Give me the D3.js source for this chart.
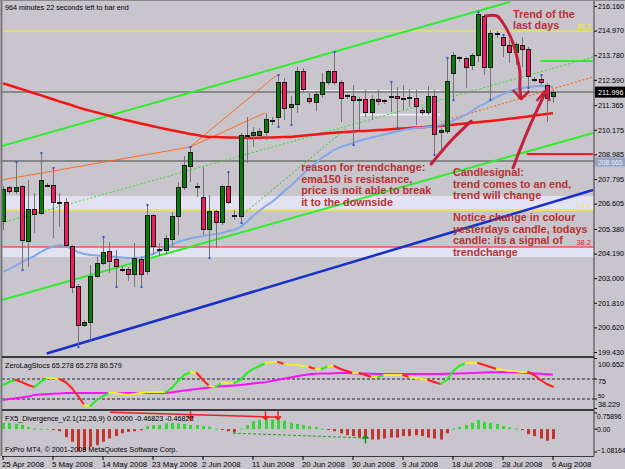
<!DOCTYPE html>
<html>
<head>
<meta charset="utf-8">
<script src="https://cdnjs.cloudflare.com/ajax/libs/d3/7.8.5/d3.min.js"></script>
<style>
  body { margin: 0; background: #c9c5cc; }
  svg { display: block; }
  text { font-family: "Liberation Sans", Arial, sans-serif; }
</style>
</head>
<body>
<div id="chart"></div>
<script>
// ---- chart values ----
var priceTicks = [216.160, 214.970, 213.780, 212.590, 211.365, 210.175, 208.985, 207.795,
                  206.605, 205.380, 204.190, 203.000, 201.810, 200.620, 199.430];
var dateLabels = ["25 Apr 2008", "5 May 2008", "14 May 2008", "23 May 2008", "2 Jun 2008", "11 Jun 2008",
                  "20 Jun 2008", "30 Jun 2008", "9 Jul 2008", "18 Jul 2008", "28 Jul 2008", "6 Aug 2008"];
var dateBars = [0, 8, 16, 24, 32, 40, 48, 56, 64, 72, 80, 88];

var opens = [205.72, 207.36, 207.17, 207.41, 204.75, 206.34, 206.15, 207.50, 207.50, 206.68,
  206.68, 204.51, 202.62, 200.73, 200.88, 203.06, 203.73, 204.31, 203.88, 203.44,
  203.44, 203.20, 203.88, 203.30, 206.01, 204.41, 204.36, 204.85, 205.96, 207.36,
  208.42, 207.41, 206.92, 205.33, 206.20, 205.67, 207.41, 206.01, 205.96, 209.92,
  209.92, 209.92, 210.02, 210.60, 210.79, 212.44, 211.23, 211.42, 212.97, 211.71,
  211.47, 211.86, 212.44, 212.97, 212.44, 211.81, 211.76, 211.61, 211.66, 211.03,
  211.66, 211.57, 211.76, 211.76, 211.71, 211.71, 211.71, 211.13, 210.99, 211.76,
  210.02, 210.07, 212.92, 213.65, 213.60, 213.26, 213.79, 215.63, 213.21, 214.81,
  214.66, 214.27, 213.89, 214.27, 214.08, 212.63, 212.63, 212.34, 211.76];
var highs = [207.46, 207.46, 208.62, 207.50, 207.75, 207.12, 209.05, 207.60, 208.33, 207.12,
  206.88, 204.60, 202.72, 200.98, 203.64, 204.02, 204.99, 204.75, 204.36, 203.59,
  203.54, 204.70, 204.02, 206.54, 206.10, 204.70, 205.09, 206.20, 207.65, 208.91,
  209.34, 207.60, 208.37, 207.02, 206.30, 207.50, 208.13, 206.30, 210.02, 210.79,
  210.31, 210.26, 210.99, 210.79, 212.82, 212.68, 211.81, 213.21, 213.16, 211.95,
  212.00, 212.92, 213.07, 213.94, 212.58, 211.90, 212.34, 211.76, 212.10, 211.86,
  212.10, 211.66, 212.49, 212.24, 212.34, 212.15, 212.10, 211.28, 212.29, 212.10,
  210.26, 213.65, 213.94, 213.74, 213.69, 213.89, 215.87, 215.77, 215.00, 214.95,
  214.76, 214.52, 214.42, 214.66, 214.18, 212.73, 212.82, 212.44, 212.10];
var lows = [205.33, 207.07, 207.07, 203.39, 203.54, 205.18, 206.05, 207.41, 204.94, 205.47,
  204.51, 202.28, 199.67, 200.64, 200.01, 203.01, 203.64, 203.25, 202.57, 203.30,
  202.86, 202.57, 202.57, 203.15, 204.12, 204.07, 204.12, 204.51, 205.09, 207.26,
  207.65, 206.92, 205.09, 203.97, 204.46, 205.57, 206.59, 205.81, 205.67, 208.57,
  209.34, 209.68, 209.68, 210.41, 210.31, 210.65, 210.41, 210.99, 212.00, 211.42,
  211.08, 211.71, 212.34, 212.34, 210.55, 211.66, 209.44, 210.16, 210.79, 210.65,
  211.37, 211.42, 211.03, 210.26, 211.13, 211.28, 210.41, 210.89, 210.89, 208.96,
  209.20, 209.97, 211.61, 213.45, 212.20, 213.07, 213.45, 212.82, 211.61, 214.61,
  213.69, 213.40, 213.31, 213.21, 212.20, 212.49, 212.34, 210.55, 211.47];
var closes = [207.31, 207.17, 207.36, 204.80, 206.34, 206.10, 207.70, 207.48, 206.68, 206.66,
  204.60, 202.57, 200.73, 200.88, 203.06, 203.73, 204.26, 203.83, 203.54, 203.42,
  203.20, 203.93, 203.20, 206.01, 204.51, 204.38, 204.94, 205.96, 207.36, 208.47,
  209.10, 207.38, 205.33, 206.20, 205.67, 207.41, 206.68, 205.99, 209.92, 209.90,
  210.02, 210.07, 210.65, 210.62, 212.44, 211.18, 211.42, 212.97, 212.10, 211.52,
  211.86, 212.44, 212.97, 212.44, 211.71, 211.79, 211.61, 211.66, 211.03, 211.66,
  211.52, 211.55, 211.74, 211.71, 211.69, 211.73, 211.32, 210.99, 211.76, 209.97,
  210.16, 212.49, 213.79, 213.63, 213.21, 213.79, 215.77, 213.21, 214.85, 214.79,
  214.23, 213.89, 214.32, 214.08, 212.73, 212.61, 212.44, 211.71, 212.00];

// slow red moving average and the light blue ema150
var maRed = [212.42, 212.33, 212.23, 212.14, 212.04, 211.94, 211.85, 211.75, 211.65, 211.55,
  211.46, 211.36, 211.26, 211.17, 211.09, 211.01, 210.93, 210.85, 210.77, 210.69,
  210.62, 210.55, 210.48, 210.42, 210.35, 210.28, 210.21, 210.15, 210.09, 210.03,
  209.97, 209.92, 209.86, 209.83, 209.82, 209.81, 209.80, 209.80, 209.79, 209.78,
  209.78, 209.79, 209.80, 209.80, 209.81, 209.82, 209.83, 209.86, 209.89, 209.92,
  209.95, 209.98, 210.01, 210.03, 210.05, 210.07, 210.09, 210.11, 210.12, 210.14,
  210.16, 210.18, 210.20, 210.22, 210.24, 210.26, 210.28, 210.30, 210.32, 210.34,
  210.36, 210.39, 210.42, 210.45, 210.48, 210.51, 210.54, 210.57, 210.60, 210.63,
  210.67, 210.71, 210.74, 210.78, 210.82, 210.86, 210.90, 210.94, 210.98];
var emaBlue = [203.30, 203.44, 203.59, 203.78, 203.93, 204.07, 204.26, 204.41, 204.53, 204.60,
  204.56, 204.41, 204.26, 204.17, 204.12, 204.10, 204.07, 204.07, 204.02, 204.00,
  203.97, 203.97, 204.00, 204.07, 204.17, 204.31, 204.46, 204.60, 204.75, 204.85,
  204.92, 204.99, 205.04, 205.09, 205.13, 205.18, 205.28, 205.33, 205.47, 205.72,
  206.01, 206.25, 206.49, 206.68, 206.92, 207.21, 207.46, 207.75, 208.04, 208.33,
  208.57, 208.81, 209.00, 209.20, 209.34, 209.44, 209.54, 209.63, 209.73, 209.80,
  209.87, 209.95, 210.02, 210.09, 210.16, 210.21, 210.26, 210.28, 210.31, 210.33,
  210.41, 210.50, 210.62, 210.74, 210.89, 211.08, 211.28, 211.42, 211.61, 211.76,
  211.90, 212.03, 212.12, 212.20, 212.24, 212.27, 212.29, 212.29, 212.24];

var fractalHigh = [2, 6, 8, 16, 23, 30, 36, 44, 53, 62, 71, 76, 80, 86];
var fractalLow = [3, 12, 14, 18, 22, 33, 38, 44, 46, 56, 63, 69, 72, 78, 84];

// drawn objects: [bar, price] end points
var channelUpper = [[-0.2, 209.39], [81.1, 216.35]];
var channelMid = [[-0.2, 201.94], [94.4, 210.02]];
var channelLow = [[7, 199.36], [94.4, 207.26]];
var dottedTrend = [[-0.2, 205.67], [94.4, 213.69]];
var dottedTrend2 = [[37.9, 205.96], [55, 210.26]];
var orangeA = [[-0.2, 207.75], [29.9, 209.34]];
var orangeB = [[29.9, 209.34], [43.8, 212.82]];
var orangeC = [[29.9, 209.34], [41.9, 210.99]];
var orangeDot = [[70, 210.55], [94.4, 212.73]];
var resistLine = [[83.8, 209.00], [94.4, 209.00]];
var greenShort = [[86, 213.50], [94.4, 213.50]];

var bidPrice = 211.996;
var markLevel = 208.665;
var fibYellowTop = 214.95, fib236 = 206.30, fib382 = 204.51;
var fibBands = [[206.97, 206.34], [204.46, 204.02]];
var rangeStrips = [[47.5, 70, 212.10, 211.98], [57, 70, 210.95, 210.86]];

// freehand annotations, [bar, price]
var arrowTrend = [[77.3, 215.68], [79.0, 215.68], [80.3, 215.19], [81.4, 214.52], [82.2, 213.74],
                  [82.7, 212.97], [82.7, 212.20], [82.9, 211.71]];
var arrowTrendHead = [[81.6, 212.10], [82.9, 211.66], [84.2, 212.05]];
var arrowReason = [[68.5, 208.52], [70.1, 209.10], [71.8, 209.68], [73.4, 210.16], [74.9, 210.60]];
var arrowCandle = [[81.6, 208.33], [82.7, 209.20], [84.0, 210.16], [85.3, 211.03], [86.2, 211.61], [86.7, 212.00]];
var arrowCandleHead = [[85.4, 211.57], [86.7, 212.05], [87.5, 211.57]];

var notes = [
  {bar: 81.6, price: 215.58, lines: ["Trend of the", "last days"]},
  {bar: 47.7, price: 208.18, lines: ["reason for trendchange:", "ema150 is resistance,", "price is noit able to break", "it to the downside"]},
  {bar: 72.0, price: 207.94, lines: ["Candlesignal:", "trend comes to an end,", "trend will change"]},
  {bar: 72.0, price: 205.76, lines: ["Notice change in colour", "yesterdays candle, todays", "candle: its a signal of", "trendchange"]}
];

// ZeroLagStochs
var stochTicks = [100.652, 75, 50, 38.229];
var stochMain = [67.5, 71.25, 73.75, 71.25, 67.5, 65, 71.25, 76.25, 76.25, 75,
  71.25, 63.75, 53.75, 42.5, 41.25, 48.75, 53.75, 57.5, 57.5, 56.25,
  55, 56.25, 57.5, 58.75, 58.75, 58.75, 58.75, 63.75, 72.5, 80,
  83.75, 82.5, 73.75, 66.25, 65, 70, 70, 70, 73.75, 82.5,
  87.5, 91.25, 95, 96.25, 96.25, 93.75, 92.5, 92.5, 91.25, 90,
  87.5, 87.5, 91.25, 91.25, 87.5, 85, 82.5, 82.5, 80, 77.5,
  77.5, 80, 80, 80, 80, 77.5, 76.25, 75, 73.75, 71.25,
  68.75, 73.75, 85, 91.25, 95, 95, 95, 92.5, 90, 87.5,
  86.25, 85, 85, 83.75, 83.75, 80, 73.75, 68.75, 65.28];
var stochSignal = [48.75, 50, 51, 52, 53, 55, 55.5, 56, 56.5, 57,
  57.5, 57.5, 57.5, 57.5, 57.5, 57.5, 57.5, 57.5, 57.5, 57.5,
  57.5, 57.5, 57.5, 57.5, 57.5, 57.5, 57.5, 58.5, 59.5, 60.5,
  61.5, 62.5, 63.5, 64.5, 65.2, 65.8, 66.4, 67, 67.5, 68.4,
  69.3, 70.2, 71.1, 72.5, 74, 75.5, 77, 78.3, 79.6, 81,
  81.5, 81.8, 82, 82.3, 82.5, 82.5, 82.3, 82, 81.8, 81.5,
  81.3, 81.25, 81.25, 81.25, 81.25, 81.25, 81.25, 81.25, 81.25, 81.25,
  81.25, 81.5, 81.8, 82, 82.3, 82.5, 82.8, 83, 83.3, 83.5,
  83.75, 83.75, 83.5, 83, 82.5, 82, 81.5, 81, 80.58];

// FX5 divergence histogram
var divTicks = [0.75896, 0.00, -1.08164];
var divHist = [0.29, 0.29, 0.25, 0.2, 0.1, 0.03, 0.02, 0.02, -0.02, -0.1,
  -0.38, -0.6, -1.05, -1.0, -0.84, -0.76, -0.6, -0.44, -0.33, -0.2,
  -0.13, -0.1, -0.06, 0.14, 0.19, 0.19, 0.27, 0.3, 0.27, 0.24,
  0.19, 0.19, 0.14, 0.11, 0.02, -0.02, -0.1, -0.16, 0.03, 0.19,
  0.38, 0.43, 0.46, 0.46, 0.46, 0.4, 0.3, 0.24, 0.19, 0.14,
  0.11, 0.02, -0.02, -0.1, -0.2, -0.29, -0.33, -0.4, -0.44, -0.49,
  -0.49, -0.44, -0.4, -0.4, -0.33, -0.33, -0.29, -0.33, -0.4, -0.44,
  -0.49, -0.2, 0.02, 0.11, 0.19, 0.3, 0.43, 0.35, 0.3, 0.24,
  0.14, 0.08, 0.02, -0.05, -0.24, -0.33, -0.44, -0.55, -0.47];
var divBearLine = [[17.1, 0.80], [44.3, 0.56]];
var divBearArrows = [30, 42, 44];
var divBullLine = [[36.8, -0.19], [58, -0.42]];
var divBullArrows = [58];

// ---- set up ----
var width = 625, height = 469;

var x = d3.scaleLinear().domain([0, 88]).range([3, 553]);
var y = d3.scaleLinear().domain([199.43, 216.16]).range([352, 6]);
var yS = d3.scaleLinear().domain([50, 75]).range([399, 379]);
var yD = d3.scaleLinear().domain([-1.08164, 0.75896]).range([452, 413]);

var svg = d3.select("#chart").append("svg")
  .attr("width", width)
  .attr("height", height);

svg.append("rect").attr("width", width).attr("height", height).attr("fill", "#c9c5cc");

var defs = svg.append("defs");
defs.append("clipPath").attr("id", "clipMain").append("rect")
  .attr("x", 2).attr("y", 1).attr("width", 592).attr("height", 355);
defs.append("clipPath").attr("id", "clipStoch").append("rect")
  .attr("x", 2).attr("y", 358).attr("width", 592).attr("height", 51);
defs.append("clipPath").attr("id", "clipDiv").append("rect")
  .attr("x", 2).attr("y", 411).attr("width", 592).attr("height", 45);

var main = svg.append("g").attr("clip-path", "url(#clipMain)");
var tl = d3.line().x(d => x(d[0])).y(d => y(d[1]));

// Step 1: fib bands and horizontal levels
main.selectAll(".band").data(fibBands).enter().append("rect")
  .attr("x", 2).attr("width", 592)
  .attr("y", d => y(d[0])).attr("height", d => y(d[1]) - y(d[0]))
  .attr("fill", "#e3e2f3");
main.selectAll(".strip").data(rangeStrips).enter().append("rect")
  .attr("x", d => x(d[0])).attr("width", d => x(d[1]) - x(d[0]))
  .attr("y", d => y(d[2])).attr("height", d => y(d[3]) - y(d[2]))
  .attr("fill", "#ecebf5");

function hline(price, color, w) {
  main.append("line").attr("x1", 2).attr("x2", 594)
    .attr("y1", y(price)).attr("y2", y(price))
    .attr("stroke", color).attr("stroke-width", w);
}
hline(fibYellowTop, "#f4f030", 1);
hline(fib236, "#f4f030", 1.5);
hline(fib382, "#ff2a2a", 1);
hline(bidPrice, "#8a8a8a", 2);
hline(markLevel, "#858585", 2);

// Step 2: trend lines
function trend(pts, color, w, dash) {
  main.append("path").datum(pts).attr("d", tl)
    .attr("fill", "none").attr("stroke", color).attr("stroke-width", w)
    .attr("stroke-dasharray", dash || null);
}
trend(orangeA, "#ff6a20", 1);
trend(orangeB, "#ff6a20", 1);
trend(orangeC, "#ff6a20", 1);
trend(orangeDot, "#ff6a20", 1.2, "2,2");
trend(dottedTrend, "#30e030", 1, "2,2");
trend(dottedTrend2, "#30c030", 1, "2,2");
trend(channelUpper, "#2aee2a", 2);
trend(channelMid, "#2aee2a", 2);
trend(channelLow, "#1830c8", 2.5);
trend(resistLine, "#ff1a1a", 2);
trend(greenShort, "#2aee2a", 2);

// Step 3: moving averages
var maLine = d3.line().x((d, i) => x(i)).y(d => y(d));
main.append("path").datum(maRed).attr("d", maLine)
  .attr("fill", "none").attr("stroke", "#f41414").attr("stroke-width", 2.5);
main.append("path").datum(emaBlue).attr("d", maLine)
  .attr("fill", "none").attr("stroke", "#82a8e8").attr("stroke-width", 2);

// Step 4: candles
var bars = d3.range(opens.length).map(function(i) {
  return {i: i, o: opens[i], h: highs[i], l: lows[i], c: closes[i]};
});
var candle = main.append("g").attr("shape-rendering", "crispEdges")
  .selectAll("g").data(bars).enter().append("g");
candle.append("line")
  .attr("x1", d => Math.round(x(d.i)) + 0.5).attr("x2", d => Math.round(x(d.i)) + 0.5)
  .attr("y1", d => y(d.h)).attr("y2", d => y(d.l))
  .attr("stroke", "#747474");
candle.append("rect")
  .attr("x", d => Math.round(x(d.i)) - 1.5)
  .attr("width", 4)
  .attr("y", d => y(Math.max(d.o, d.c)))
  .attr("height", d => Math.max(1, y(Math.min(d.o, d.c)) - y(Math.max(d.o, d.c))))
  .attr("fill", d => d.c >= d.o ? "#0a7a0a" : "#ee1c5a")
  .attr("stroke", "#1a1a1a").attr("stroke-width", 1);

main.selectAll(".fh").data(fractalHigh).enter().append("rect")
  .attr("x", d => Math.round(x(d)) - 0.5).attr("y", d => y(highs[d]) - 1)
  .attr("width", 2).attr("height", 2).attr("fill", "#3050e8");
main.selectAll(".fl").data(fractalLow).enter().append("rect")
  .attr("x", d => Math.round(x(d)) - 0.5).attr("y", d => y(lows[d]) - 1)
  .attr("width", 2).attr("height", 2).attr("fill", "#3050e8");

// Step 5: hand drawn arrows and notes
var hand = d3.line().x(d => x(d[0])).y(d => y(d[1])).curve(d3.curveCatmullRom);
[arrowTrend, arrowReason, arrowCandle].forEach(function(a) {
  main.append("path").datum(a).attr("d", hand)
    .attr("fill", "none").attr("stroke", "#c41f3c").attr("stroke-width", 3)
    .attr("stroke-linecap", "round");
});
[arrowTrendHead, arrowCandleHead].forEach(function(a) {
  main.append("path").datum(a).attr("d", tl)
    .attr("fill", "none").attr("stroke", "#c41f3c").attr("stroke-width", 2.5)
    .attr("stroke-linejoin", "round");
});

notes.forEach(function(n) {
  var t = main.append("text")
    .attr("x", x(n.bar)).attr("y", y(n.price))
    .attr("fill", "#b83232").attr("font-size", "10.8px").attr("font-weight", "bold");
  n.lines.forEach(function(s, k) {
    t.append("tspan").attr("x", x(n.bar)).attr("dy", k === 0 ? 0 : 11.5).text(s);
  });
});

main.append("text").attr("x", 5).attr("y", 10)
  .attr("font-size", "7.2px").attr("fill", "#000")
  .text("964 minutes 22 seconds left to bar end");

// fib labels
svg.append("text").attr("x", 591).attr("y", y(fibYellowTop) - 2).attr("text-anchor", "end")
  .attr("font-size", "7.5px").attr("fill", "#f4f030").text("38.2");
svg.append("text").attr("x", 591).attr("y", y(fib236) - 2).attr("text-anchor", "end")
  .attr("font-size", "7.5px").attr("fill", "#f4f030").text("23.6");
svg.append("text").attr("x", 591).attr("y", y(fib382) - 2).attr("text-anchor", "end")
  .attr("font-size", "7.5px").attr("fill", "#e02020").text("38.2");

// Step 6: price axis
var priceAxis = d3.axisRight(y).tickValues(priceTicks).tickSize(3)
  .tickFormat(d3.format(".3f"));
var pa = svg.append("g").attr("transform", "translate(594,0)").call(priceAxis);
pa.select(".domain").remove();
pa.selectAll("text").attr("x", 4).attr("font-size", "7.2px").attr("font-family", "Liberation Sans, Arial, sans-serif");

svg.append("rect").attr("x", 595).attr("y", y(bidPrice) - 5.5).attr("width", 30).attr("height", 11).attr("fill", "#000");
svg.append("text").attr("x", 598).attr("y", y(bidPrice) + 3).attr("font-size", "7.2px").attr("fill", "#fff")
  .text(d3.format(".3f")(bidPrice));
svg.append("rect").attr("x", 595).attr("y", y(markLevel) - 3.5).attr("width", 30).attr("height", 9).attr("fill", "#96a2c2");
svg.append("text").attr("x", 598).attr("y", y(markLevel) + 4).attr("font-size", "6.8px").attr("fill", "#eef0fa")
  .text(d3.format(".3f")(markLevel));

// Step 7: ZeroLagStochs panel
var stoch = svg.append("g").attr("clip-path", "url(#clipStoch)");
[75, 50].forEach(function(v) {
  stoch.append("line").attr("x1", 2).attr("x2", 594).attr("y1", yS(v)).attr("y2", yS(v))
    .attr("stroke", "#222").attr("stroke-dasharray", "3,2");
});
stoch.append("path").datum(stochSignal).attr("d", d3.line().x((d, i) => x(i)).y(d => yS(d)))
  .attr("fill", "none").attr("stroke", "#ff10ff").attr("stroke-width", 2);
stoch.selectAll(".seg").data(d3.range(1, stochMain.length)).enter().append("line")
  .attr("x1", i => x(i - 1)).attr("x2", i => x(i))
  .attr("y1", i => yS(stochMain[i - 1])).attr("y2", i => yS(stochMain[i]))
  .attr("stroke-width", 2).attr("stroke-linecap", "round")
  .attr("stroke", function(i) {
    var dv = stochMain[i] - stochMain[i - 1];
    return dv > 1.3 ? "#22ee22" : (dv < -1.3 ? "#ff2020" : "#f0ee30");
  });
svg.append("text").attr("x", 5).attr("y", 368).attr("font-size", "7.2px")
  .text("ZeroLagStocs 65.278 65.278 80.579");

var stochLabelShift = [6, 2, -4, -4];
stochTicks.forEach(function(v, k) {
  svg.append("line").attr("x1", 594).attr("x2", 597).attr("y1", yS(v)).attr("y2", yS(v)).attr("stroke", "#000");
  svg.append("text").attr("x", 598).attr("y", yS(v) + 3 + stochLabelShift[k])
    .attr("font-size", k === 2 ? "6px" : "7.2px").text(v === 75 || v === 50 ? v : d3.format(".3f")(v));
});

// Step 8: divergence panel
var div = svg.append("g").attr("clip-path", "url(#clipDiv)");
div.selectAll(".hist").data(divHist).enter().append("rect")
  .attr("x", (d, i) => Math.round(x(i)) - 1)
  .attr("width", 3)
  .attr("y", d => d >= 0 ? yD(d) : yD(0))
  .attr("height", d => Math.max(1, Math.abs(yD(d) - yD(0))))
  .attr("fill", d => d >= 0 ? "#36d636" : "#c2352e");
var dl = d3.line().x(d => x(d[0])).y(d => yD(d[1]));
div.append("path").datum(divBearLine).attr("d", dl)
  .attr("fill", "none").attr("stroke", "#e82020").attr("stroke-width", 1.5);
div.append("path").datum(divBullLine).attr("d", dl)
  .attr("fill", "none").attr("stroke", "#20a020").attr("stroke-width", 1).attr("stroke-dasharray", "3,2");
divBearArrows.forEach(function(b) {
  var ax = x(b), ay = yD(0.6);
  div.append("path").attr("d", "M" + ax + "," + (ay - 5) + "V" + (ay + 3) + "M" + (ax - 3) + "," + ay + "L" + ax + "," + (ay + 3) + "L" + (ax + 3) + "," + ay)
    .attr("fill", "none").attr("stroke", "#e82020").attr("stroke-width", 1.5);
});
divBullArrows.forEach(function(b) {
  var ax = x(b), ay = yD(-0.45);
  div.append("path").attr("d", "M" + ax + "," + (ay + 5) + "V" + (ay - 3) + "M" + (ax - 3) + "," + ay + "L" + ax + "," + (ay - 3) + "L" + (ax + 3) + "," + ay)
    .attr("fill", "none").attr("stroke", "#159015").attr("stroke-width", 1.5);
});
svg.append("text").attr("x", 5).attr("y", 421).attr("font-size", "7.2px")
  .text("FX5_Divergence_v2.1(12,26,9) 0.00000 -0.46823 -0.46823");
svg.append("text").attr("x", 5).attr("y", 452).attr("font-size", "7.2px")
  .text("FxPro MT4, \u00a9 2001-2008 MetaQuotes Software Corp.");

var divLabelShift = [3, 0, -2];
divTicks.forEach(function(v, k) {
  svg.append("line").attr("x1", 594).attr("x2", 597).attr("y1", yD(v)).attr("y2", yD(v)).attr("stroke", "#000");
  svg.append("text").attr("x", 597).attr("y", yD(v) + 3 + divLabelShift[k])
    .attr("font-size", "6.8px").text(v === 0 ? "0.00" : d3.format(".5f")(v));
});

// Step 9: frame and date axis
svg.append("line").attr("x1", 1.5).attr("x2", 1.5).attr("y1", 0).attr("y2", 456).attr("stroke", "#7a7a7a").attr("stroke-width", 2);
svg.append("line").attr("x1", 594).attr("x2", 594).attr("y1", 0).attr("y2", 456).attr("stroke", "#3a3a3a");
svg.append("line").attr("x1", 0).attr("x2", 625).attr("y1", 0.5).attr("y2", 0.5).attr("stroke", "#8a8a8a");
svg.append("line").attr("x1", 2).attr("x2", 594).attr("y1", 357).attr("y2", 357).attr("stroke", "#3a3a3a").attr("stroke-width", 2);
svg.append("line").attr("x1", 2).attr("x2", 594).attr("y1", 410).attr("y2", 410).attr("stroke", "#3a3a3a").attr("stroke-width", 2);
svg.append("line").attr("x1", 2).attr("x2", 594).attr("y1", 456.5).attr("y2", 456.5).attr("stroke", "#3a3a3a");

var dateAxis = svg.append("g");
dateBars.forEach(function(b, k) {
  dateAxis.append("line").attr("x1", x(b)).attr("x2", x(b)).attr("y1", 456).attr("y2", 460).attr("stroke", "#000");
  dateAxis.append("text").attr("x", x(b) - 1).attr("y", 467).attr("font-size", "7.8px").text(dateLabels[k]);
});
</script>
</body>
</html>
